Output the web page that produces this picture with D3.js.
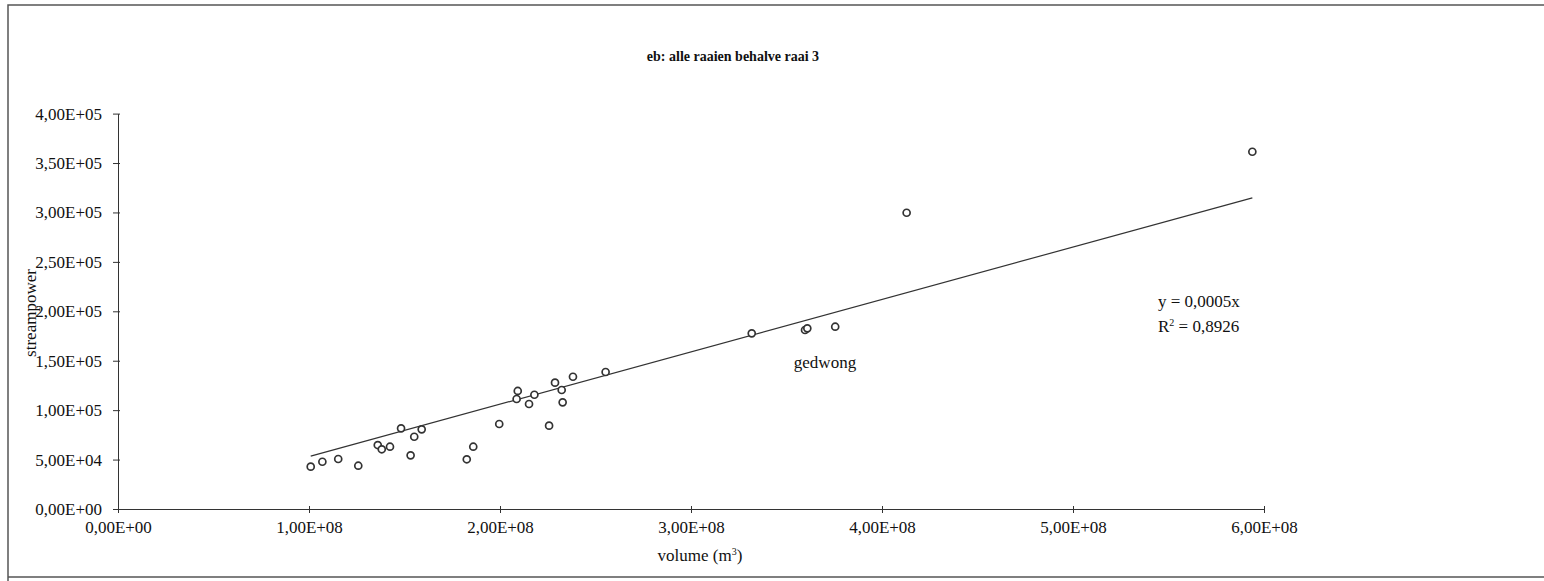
<!DOCTYPE html>
<html>
<head>
<meta charset="utf-8">
<script src="https://cdn.jsdelivr.net/npm/d3@7"></script>
<style>
  body { margin: 0; background: #fff; }
  text { font-family: "Liberation Serif", "Times New Roman", serif; fill: #111; }
</style>
</head>
<body>
<script>
// chart size
var width = 1544;
var height = 581;

// data: volume (m3) vs streampower
var volume = [1.009e8, 1.070e8, 1.153e8, 1.258e8, 1.360e8, 1.381e8, 1.424e8, 1.482e8, 1.532e8, 1.551e8,
  1.590e8, 1.826e8, 1.860e8, 1.996e8, 2.093e8, 2.087e8, 2.152e8, 2.180e8, 2.257e8, 2.288e8,
  2.323e8, 2.328e8, 2.382e8, 2.553e8, 3.318e8, 3.597e8, 3.609e8, 3.755e8, 4.129e8, 5.939e8];
var streampower = [42800, 47800, 50600, 43800, 64700, 60400, 63000, 81600, 54300, 73100,
  80600, 50300, 63000, 86000, 119400, 111300, 106200, 115600, 84300, 127800,
  120400, 107900, 133800, 138600, 177700, 181100, 182800, 184400, 299700, 361400];

// trend line through origin, y = slope * x
var trendSlope = 0.00053;
var trendRange = [1.009e8, 5.939e8];

var xTicks = [0, 1e8, 2e8, 3e8, 4e8, 5e8, 6e8];
var xTickLabels = ["0,00E+00", "1,00E+08", "2,00E+08", "3,00E+08", "4,00E+08", "5,00E+08", "6,00E+08"];
var yTicks = [0, 5e4, 1e5, 1.5e5, 2e5, 2.5e5, 3e5, 3.5e5, 4e5];
var yTickLabels = ["0,00E+00", "5,00E+04", "1,00E+05", "1,50E+05", "2,00E+05", "2,50E+05", "3,00E+05", "3,50E+05", "4,00E+05"];

var svg = d3.select('body').append('svg')
  .attr('width', width)
  .attr('height', height);

// outer frame
svg.append('path')
  .attr('d', 'M8,581 L8,5 L1544,5 M8,577 L1544,577')
  .attr('fill', 'none')
  .attr('stroke', '#555')
  .attr('stroke-width', 1.5);

var x = d3.scaleLinear().domain([0, 6e8]).range([118, 1264]);
var y = d3.scaleLinear().domain([0, 4e5]).range([509, 113.6]);

// y axis
var yAxis = d3.axisLeft(y)
  .tickValues(yTicks)
  .tickFormat(function(d, i) { return yTickLabels[i]; })
  .tickSizeInner(5)
  .tickSizeOuter(0)
  .tickPadding(11);
var gy = svg.append('g').attr('transform', 'translate(118,0)').call(yAxis);
gy.selectAll('.tick line').attr('x2', -5).attr('x1', 2);

// x axis
var xAxis = d3.axisBottom(x)
  .tickValues(xTicks)
  .tickFormat(function(d, i) { return xTickLabels[i]; })
  .tickSizeInner(4)
  .tickSizeOuter(0)
  .tickPadding(8);
var gx = svg.append('g').attr('transform', 'translate(0,509)').call(xAxis);
gx.selectAll('.tick line').attr('y1', -3);

svg.selectAll('.domain').attr('stroke', '#333');
svg.selectAll('.tick line').attr('stroke', '#333');
svg.selectAll('.tick text')
  .style('font-family', '"Liberation Serif", serif')
  .style('font-size', '17px')
  .attr('fill', '#111');

// trend line
svg.append('line')
  .attr('x1', x(trendRange[0]))
  .attr('y1', y(trendRange[0] * trendSlope))
  .attr('x2', x(trendRange[1]))
  .attr('y2', y(trendRange[1] * trendSlope))
  .attr('stroke', '#333')
  .attr('stroke-width', 1.2);

// points
svg.selectAll('circle.pt').data(volume)
  .enter()
  .append('circle')
  .attr('class', 'pt')
  .attr('cx', function(d) { return x(d); })
  .attr('cy', function(d, i) { return y(streampower[i]); })
  .attr('r', 3.5)
  .attr('fill', '#fff')
  .attr('stroke', '#333')
  .attr('stroke-width', 1.7);

// title
svg.append('text')
  .attr('x', 733).attr('y', 61)
  .attr('text-anchor', 'middle')
  .style('font-size', '14px')
  .style('font-weight', 'bold')
  .text('eb: alle raaien behalve raai 3');

// axis titles
var xt = svg.append('text')
  .attr('x', 700).attr('y', 561)
  .attr('text-anchor', 'middle')
  .style('font-size', '17px');
xt.append('tspan').text('volume (m');
xt.append('tspan').attr('dy', -6).style('font-size', '10px').text('3');
xt.append('tspan').attr('dy', 6).text(')');

svg.append('text')
  .attr('transform', 'translate(36,313) rotate(-90)')
  .attr('text-anchor', 'middle')
  .style('font-size', '17px')
  .text('streampower');

// annotation
svg.append('text')
  .attr('x', 825).attr('y', 368)
  .attr('text-anchor', 'middle')
  .style('font-size', '17px')
  .text('gedwong');

// equation
svg.append('text')
  .attr('x', 1158).attr('y', 307)
  .style('font-size', '17px')
  .text('y = 0,0005x');
var r2 = svg.append('text')
  .attr('x', 1158).attr('y', 332)
  .style('font-size', '17px');
r2.append('tspan').text('R');
r2.append('tspan').attr('dy', -6).style('font-size', '10px').text('2');
r2.append('tspan').attr('dy', 6).text(' = 0,8926');
</script>
</body>
</html>
